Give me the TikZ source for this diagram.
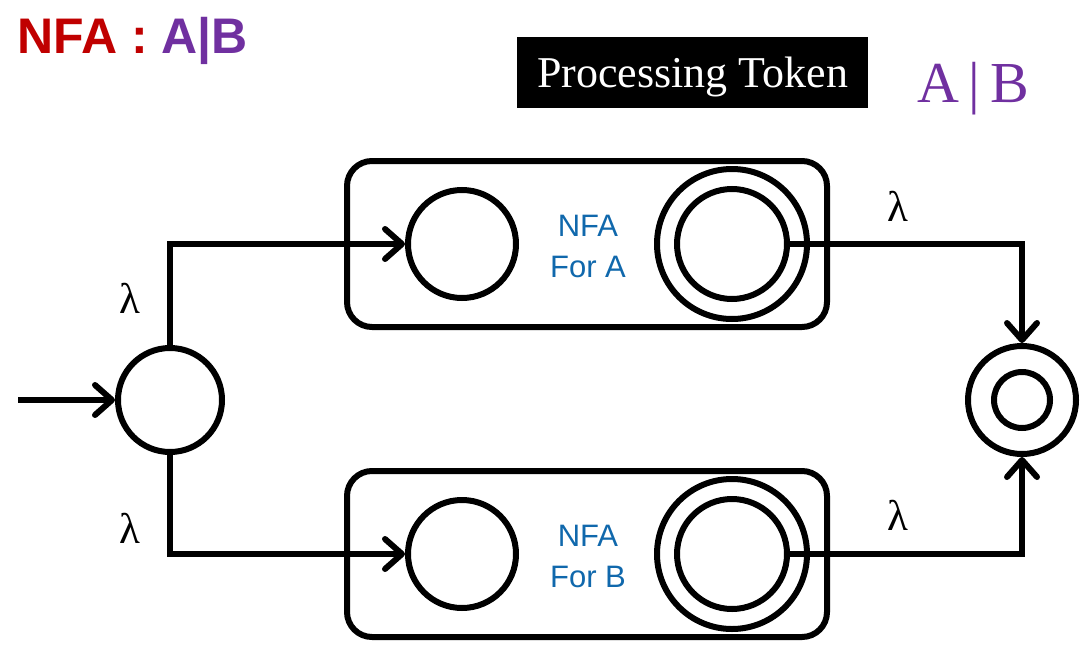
\documentclass[tikz,border=0pt]{standalone}
\usepackage{fontspec}
\setmainfont{Liberation Serif}
\setsansfont{Liberation Sans}
\usetikzlibrary{arrows.meta}
\definecolor{nfared}{RGB}{192,0,0}
\definecolor{nfapurple}{RGB}{112,48,160}
\definecolor{nfablue}{RGB}{16,104,172}
\tikzset{
  lw/.style={line width=6pt},
  statec/.style={circle,draw,lw,inner sep=0pt,minimum size=#1},
  boxr/.style={draw,lw,rounded corners=25pt,minimum width=480pt,minimum height=166pt},
  arr/.style={lw,-{Straight Barb[length=17pt,width=30pt,round]}},
  lam/.style={font=\fontsize{43}{43}\selectfont},
  nfatext/.style={font=\sffamily\fontsize{31}{41}\selectfont,text=nfablue,align=center},
}
\begin{document}
\begin{tikzpicture}[x=1pt,y=-1pt]
\useasboundingbox (0,0) rectangle (1086,661);
% title
\node[anchor=base west,inner sep=0pt,font=\sffamily\bfseries\fontsize{50}{50}\selectfont] (title) at (17,54)
  {\textcolor{nfared}{NFA :} \textcolor{nfapurple}{A|B}};
\node[fill=black,minimum width=351pt,minimum height=71pt,inner sep=0pt] (tok) at (692.5,72.5) {};
\node[text=white,inner sep=0pt,anchor=base,font=\fontsize{44}{44}\selectfont] (toktext) at (692.5,88) {Processing Token};
\node[text=nfapurple,inner sep=0pt,anchor=base,font=\fontsize{58}{58}\selectfont] (ab) at (973,102) {A\,|\,B};
% boxes
\node[boxr] (boxA) at (587,244) {};
\node[boxr] (boxB) at (587,554) {};
% states
\node[statec=104pt] (s0) at (170,400) {};
\node[statec=108pt] (a0) at (462,244) {};
\node[statec=150pt] (a1o) at (732,244) {};
\node[statec=110pt] (a1) at (732,244) {};
\node[statec=108pt] (b0) at (462,554) {};
\node[statec=150pt] (b1o) at (732,554) {};
\node[statec=110pt] (b1) at (732,554) {};
\node[statec=108pt] (f) at (1022,400) {};
\node[statec=56pt] (fi) at (1022,400) {};
% texts
\node[nfatext] (ta) at (588,246) {NFA\\For A};
\node[nfatext] (tb) at (588,556) {NFA\\For B};
% connectors
\coordinate (start) at (18,400);
\draw[arr] (start) -- (s0.west);
\draw[arr] (s0.north) |- (a0.west);
\draw[arr] (s0.south) |- (b0.west);
\draw[arr] (a1.east) -| (f.north);
\draw[arr] (b1.east) -| (f.south);
% lambdas
\node[lam] (l1) at (130,298) {λ};
\node[lam] (l2) at (130,528) {λ};
\node[lam] (l3) at (898,206) {λ};
\node[lam] (l4) at (898,515) {λ};
\end{tikzpicture}
\end{document}
